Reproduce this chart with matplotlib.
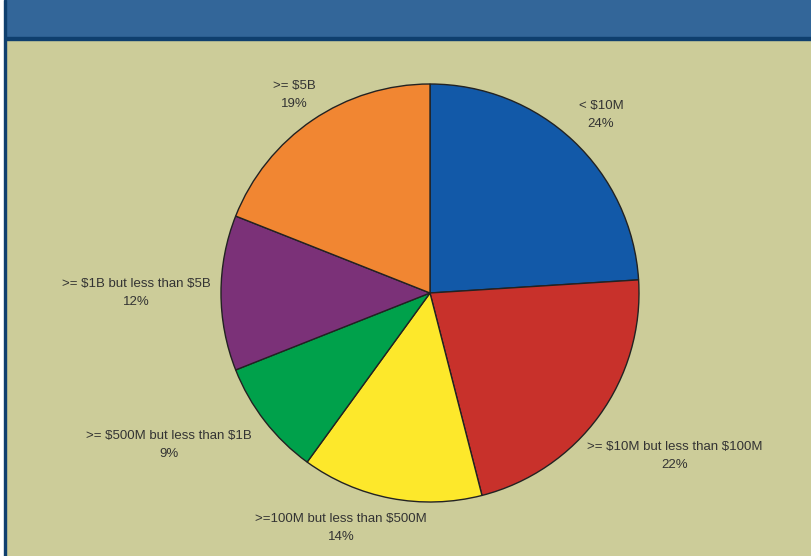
import matplotlib.pyplot as plt
from matplotlib.patches import Rectangle

# company size buckets (share of respondents)
categories = ["< $10M",
              ">= $10M but less than $100M",
              ">=100M but less than $500M",
              ">= $500M but less than $1B",
              ">= $1B but less than $5B",
              ">= $5B"]
shares = [24, 22, 14, 9, 12, 19]
colors = ["#1259a8", "#c8312b", "#fde82b", "#00a14b", "#7b3178", "#f18632"]

# where each label block sits (pixels from top-left)
label_pos = [(601, 115), (675, 456), (341, 528), (169, 445), (136, 293), (294, 95)]

W, H = 811, 556
fig = plt.figure(figsize=(W / 100, H / 100), dpi=100)
ax = fig.add_axes([0, 0, 1, 1])

# background, banner and frame
ax.add_patch(Rectangle((0, 0), W, H, color="white", zorder=0))
ax.add_patch(Rectangle((5, 0), W - 5, H - 39, color="#cccc99", zorder=0))
ax.add_patch(Rectangle((5, H - 37), W - 5, 37, color="#336699", zorder=0))
ax.add_patch(Rectangle((5, H - 40), W - 5, 3, color="#0f3f6e", zorder=1))
ax.add_patch(Rectangle((4, 0), 2, H, color="#0f3f6e", zorder=1))

ax.pie(shares, colors=colors, startangle=90, counterclock=False,
       center=(430, H - 293), radius=209, frame=True,
       wedgeprops=dict(edgecolor="#222222", linewidth=1.0))
ax.set_xlim(0, W)
ax.set_ylim(0, H)
ax.set_aspect("auto")
ax.axis("off")

for cat, val, (x, y) in zip(categories, shares, label_pos):
    ax.text(x, H - y, f"{cat}\n{val}%", ha="center", va="center",
            fontsize=9.5, family="Liberation Sans", color="#333333",
            linespacing=1.75, parse_math=False)

fig.savefig("out.png", dpi=100)
